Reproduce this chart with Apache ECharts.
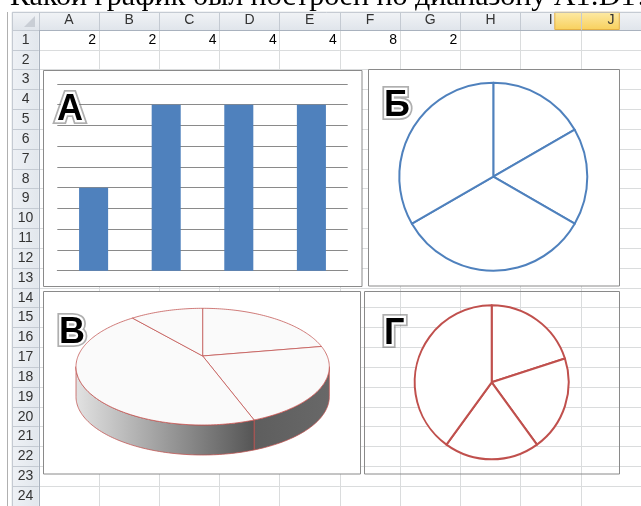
<!DOCTYPE html>
<html>
<head>
<meta charset="utf-8">
<script src="https://cdn.jsdelivr.net/npm/echarts@6/dist/echarts.min.js"></script>
<style>
  html, body { margin: 0; padding: 0; background: #fff; }
  #chart { width: 641px; height: 506px; }
</style>
</head>
<body>
<div id="chart"></div>
<script>
// --- data ---
const titleText = 'Какой график был построен по диапазону А1:D1?';
const columns = ['A', 'B', 'C', 'D', 'E', 'F', 'G', 'H', 'I', 'J'];
const rows = ['1', '2', '3', '4', '5', '6', '7', '8', '9', '10', '11', '12',
  '13', '14', '15', '16', '17', '18', '19', '20', '21', '22', '23', '24'];
const row1Values = [2, 2, 4, 4, 4, 8, 2];        // A1:G1
const barValues = row1Values.slice(1, 5);        // B1:E1  -> А
const pieBValues = row1Values.slice(0, 4);       // A1:D1  -> Б
const pie3dValues = row1Values.slice(3, 7);      // D1:G1  -> В
const pieGValues = row1Values.slice(2, 6);       // C1:F1  -> Г
const panelLetters = ['А', 'Б', 'В', 'Г'];

// --- layout ---
const COL_W = 64.5;
const ROW_H = 20.15;
const SHEET_X = 38.8;
const SHEET_Y = 30;
const HEAD_X = 12.3;
const HEAD_Y = 12.3;
const UI_FONT = '"Liberation Sans", Arial, sans-serif';

const BLUE = '#4F81BD';
const RED = '#C0504D';
const EDGE = 'rgba(192,80,77,0.75)';
const BOX = '#8a8a8a';

// 3D pie: tilt of the centre (perspective) and side depth, in ellipse units
const TILT = -0.183;
const DEPTH = 0.514;
const SIDE_FROM = Math.acos(TILT);
const SIDE_TO = 2 * Math.PI - Math.acos(TILT);
const pie3dTotal = pie3dValues.reduce((a, b) => a + b, 0);

function proj(api, ang, dv) {
  const X = Math.sin(ang), Y = -Math.cos(ang);
  const d = 1 + TILT * Y;
  return api.coord([X * Math.sqrt(1 - TILT * TILT) / d, (Y + TILT) / d + dv]);
}
function arcPts(api, a0, a1, dv) {
  const n = Math.max(2, Math.ceil((a1 - a0) / 0.02));
  const pts = [];
  for (let k = 0; k <= n; k++) pts.push(proj(api, a0 + (a1 - a0) * k / n, dv));
  return pts;
}
function sideFill(i) {
  if (i === 2) {
    return new echarts.graphic.LinearGradient(0, 0, 1, 0, [
      { offset: 0, color: '#e2e2e2' },
      { offset: 1, color: '#555555' }
    ]);
  }
  return new echarts.graphic.LinearGradient(0, 0, 1, 0, [
    { offset: 0, color: '#5e5e5e' },
    { offset: 1, color: '#686868' }
  ]);
}

function renderSlice3d(params, api) {
  const i = params.dataIndex;
  let before = 0;
  for (let j = 0; j < i; j++) before += pie3dValues[j];
  const a0 = before / pie3dTotal * 2 * Math.PI;
  const a1 = (before + api.value(0)) / pie3dTotal * 2 * Math.PI;
  const c = api.coord([0, TILT]);
  const children = [];
  const s0 = Math.max(a0, SIDE_FROM), s1 = Math.min(a1, SIDE_TO);
  if (s1 > s0) {
    const upper = arcPts(api, s0, s1, 0);
    const lower = arcPts(api, s0, s1, DEPTH).reverse();
    children.push({
      type: 'polygon',
      shape: { points: upper.concat(lower) },
      style: { fill: sideFill(i), stroke: EDGE, lineWidth: 1 }
    });
  }
  children.push({
    type: 'polygon',
    shape: { points: [c].concat(arcPts(api, a0, a1, 0)) },
    style: { fill: '#fafafa', stroke: EDGE, lineWidth: 1 }
  });
  return { type: 'group', children };
}

function renderCell(params, api) {
  const p = api.coord([api.value(0), api.value(1)]);
  const s = api.size([1, 1]);
  return {
    type: 'text',
    x: p[0] + s[0] / 2 - 3,
    y: p[1],
    style: {
      text: String(api.value(2)),
      align: 'right',
      verticalAlign: 'middle',
      font: '14px ' + UI_FONT,
      fill: '#000'
    }
  };
}

// outlined panel letter: grey halo underneath, white rim, black fill
function letter(text, x, y) {
  const font = 'bold 36px ' + UI_FONT;
  return [
    {
      type: 'text', x: x, y: y, z: 9,
      style: {
        text: text, font: font, align: 'left', verticalAlign: 'middle',
        fill: '#8a8a8a', stroke: 'rgba(110,110,110,0.55)', lineWidth: 8,
        shadowBlur: 3, shadowColor: 'rgba(0,0,0,0.35)'
      }
    },
    {
      type: 'text', x: x, y: y, z: 10,
      style: {
        text: text, font: font, align: 'left', verticalAlign: 'middle',
        fill: '#000', stroke: '#fff', lineWidth: 4.5, strokeFirst: true
      }
    }
  ];
}

const headGrad = new echarts.graphic.LinearGradient(0, 0, 0, 1, [
  { offset: 0, color: '#f1f3f6' },
  { offset: 1, color: '#e0e5eb' }
]);
const rowHeadGrad = new echarts.graphic.LinearGradient(0, 0, 1, 0, [
  { offset: 0, color: '#eef1f5' },
  { offset: 1, color: '#e2e7ed' }
]);
const selGrad = new echarts.graphic.LinearGradient(0, 0, 0, 1, [
  { offset: 0, color: '#fdeaa6' },
  { offset: 1, color: '#f8d05c' }
]);

const chart = echarts.init(document.getElementById('chart'), null, { renderer: 'canvas' });

chart.setOption({
  animation: false,
  backgroundColor: '#fff',
  grid: [
    { left: SHEET_X, top: SHEET_Y, width: COL_W * columns.length, height: ROW_H * rows.length },
    { left: 57.3, top: 84, width: 290.4, height: 186.7 },
    { left: 76, top: 308.3, width: 253.3, height: 116.7 }
  ],
  xAxis: [
    {
      gridIndex: 0, type: 'category', data: columns, position: 'top',
      axisLine: { lineStyle: { color: '#a9b2be' } },
      axisTick: { show: true, length: SHEET_Y - HEAD_Y, interval: 0, lineStyle: { color: '#c4cad2' } },
      axisLabel: { interval: 0, margin: 3, color: '#333', fontSize: 14, fontFamily: 'Liberation Sans' },
      splitLine: { show: true, interval: 0, lineStyle: { color: '#dadcdd' } }
    },
    {
      gridIndex: 1, type: 'category', data: columns.slice(1, 5), z: 2,
      axisLine: { lineStyle: { color: BOX } },
      axisTick: { show: false },
      axisLabel: { show: false }
    },
    { gridIndex: 2, type: 'value', min: -1, max: 1, show: false }
  ],
  yAxis: [
    {
      gridIndex: 0, type: 'category', data: rows, inverse: true,
      axisLine: { lineStyle: { color: '#a9b2be' } },
      axisTick: { show: true, length: SHEET_X - HEAD_X, interval: 0, lineStyle: { color: '#c4cad2' } },
      axisLabel: {
        interval: 0, align: 'center', margin: (SHEET_X - HEAD_X) / 2,
        color: '#333', fontSize: 14, fontFamily: 'Liberation Sans'
      },
      splitLine: { show: true, interval: 0, lineStyle: { color: '#dadcdd' } }
    },
    {
      gridIndex: 1, type: 'value', min: 0, max: 4.5, interval: 0.5, z: 2,
      axisLine: { show: false }, axisTick: { show: false }, axisLabel: { show: false },
      splitLine: { lineStyle: { color: BOX } }
    },
    { gridIndex: 2, type: 'value', min: -1, max: 1, inverse: true, show: false }
  ],
  series: [
    {
      type: 'custom', xAxisIndex: 0, yAxisIndex: 0, z: 2, silent: true,
      data: row1Values.map((v, i) => [i, 0, v]),
      renderItem: renderCell
    },
    {
      type: 'bar', xAxisIndex: 1, yAxisIndex: 1, z: 3, silent: true,
      data: barValues, barWidth: '40%',
      itemStyle: { color: BLUE }
    },
    {
      type: 'pie', center: [493.3, 176.7], radius: 94, z: 3, silent: true,
      startAngle: 90, clockwise: true,
      data: pieBValues.map(v => ({ value: v })),
      label: { show: false }, labelLine: { show: false },
      itemStyle: { color: '#fff', borderColor: BLUE, borderWidth: 2 },
      emphasis: { disabled: true }
    },
    {
      type: 'pie', center: [491.7, 382.3], radius: 77, z: 3, silent: true,
      startAngle: 90, clockwise: true,
      data: pieGValues.map(v => ({ value: v })),
      label: { show: false }, labelLine: { show: false },
      itemStyle: { color: '#fff', borderColor: RED, borderWidth: 2 },
      emphasis: { disabled: true }
    },
    {
      type: 'custom', xAxisIndex: 2, yAxisIndex: 2, z: 3, silent: true, clip: false,
      data: pie3dValues.map(v => [v]),
      renderItem: renderSlice3d
    }
  ],
  graphic: [
    // header strips
    { type: 'rect', z: -1, shape: { x: HEAD_X, y: HEAD_Y, width: 641, height: SHEET_Y - HEAD_Y }, style: { fill: headGrad } },
    { type: 'rect', z: -1, shape: { x: HEAD_X, y: SHEET_Y, width: SHEET_X - HEAD_X, height: 480 }, style: { fill: rowHeadGrad } },
    { type: 'rect', z: -1, shape: { x: SHEET_X + COL_W * 8, y: HEAD_Y, width: COL_W, height: SHEET_Y - HEAD_Y - 0.5 }, style: { fill: selGrad, stroke: '#e3b045', lineWidth: 1 } },
    { type: 'line', z: -1, shape: { x1: HEAD_X, y1: HEAD_Y, x2: 641, y2: HEAD_Y }, style: { stroke: '#b9c0c9', lineWidth: 1 } },
    { type: 'line', z: -1, shape: { x1: HEAD_X, y1: HEAD_Y, x2: HEAD_X, y2: 506 }, style: { stroke: '#b9c0c9', lineWidth: 1 } },
    { type: 'polygon', z: -1, shape: { points: [[35, 16], [35, 27], [24, 27]] }, style: { fill: '#c9ced5' } },
    { type: 'line', z: -1, shape: { x1: 7.5, y1: 12, x2: 7.5, y2: 506 }, style: { stroke: '#b0b0b0', lineWidth: 1 } },
    // title (cut off at the top)
    {
      type: 'text', z: 10, x: 10, y: -3,
      style: { text: titleText, font: '30px "Liberation Serif", serif', fill: '#000', align: 'left', verticalAlign: 'middle' }
    },
    // chart boxes
    { type: 'rect', z: 1, shape: { x: 43.5, y: 70.5, width: 318.5, height: 216 }, style: { fill: '#fff', stroke: BOX, lineWidth: 1 } },
    { type: 'rect', z: 1, shape: { x: 368.5, y: 69.5, width: 251, height: 216.5 }, style: { fill: '#fff', stroke: BOX, lineWidth: 1 } },
    { type: 'rect', z: 1, shape: { x: 43.5, y: 291.5, width: 317, height: 182.5 }, style: { fill: '#fff', stroke: BOX, lineWidth: 1 } },
    { type: 'rect', z: 1, shape: { x: 364.5, y: 291.5, width: 255, height: 182.5 }, style: { fill: 'none', stroke: BOX, lineWidth: 1 } }
  ].concat(
    letter(panelLetters[0], 57, 110),
    letter(panelLetters[1], 384, 106),
    letter(panelLetters[2], 59, 333),
    letter(panelLetters[3], 384, 334)
  )
});
</script>
</body>
</html>
